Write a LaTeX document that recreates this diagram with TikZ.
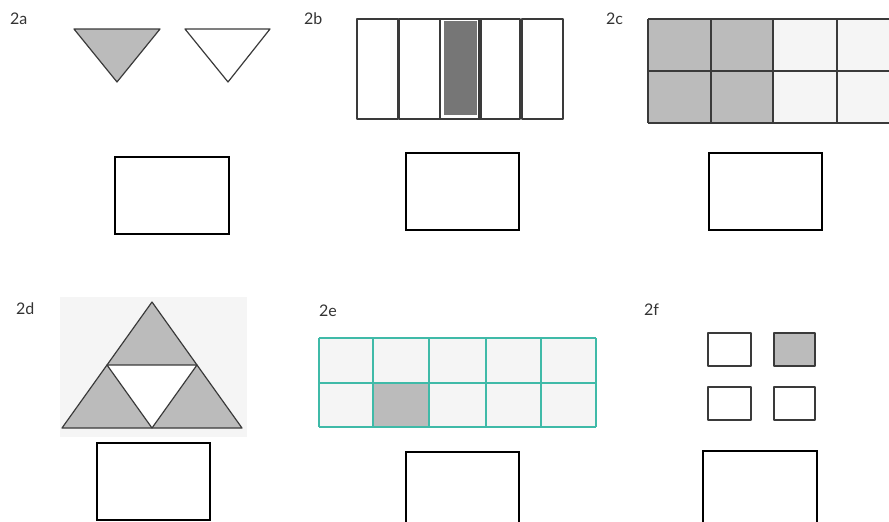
\documentclass[tikz,border=0pt]{standalone}
\usepackage{fontspec}
\setmainfont{Lato}
\usepackage{xcolor}
\usetikzlibrary{math}
\definecolor{greyfill}{HTML}{BBBBBB}
\definecolor{darkgrey}{HTML}{767676}
\definecolor{pale}{HTML}{F5F5F5}
\definecolor{gridteal}{HTML}{3FBAA8}
\definecolor{edge}{HTML}{3A3A3A}
\tikzset{
lbl/.style={anchor=north west, inner sep=0, font=\fontsize{16}{16}\selectfont, text=black!80},
ansbox/.style={draw=black, line width=1.3},
part/.style={draw=edge, line width=1.2, line join=round},
}

\begin{document}
\begin{tikzpicture}[x=1pt,y=-1pt]
\tikzmath{
\w=889; \h=522;
}
\useasboundingbox (0,0) rectangle (\w,\h);
\clip (0,0) rectangle (\w,\h);

% 2a
\node[lbl] (la) at (10,13) {2a};
\draw[part, fill=greyfill] (74,29) -- (160,29) -- (117,82) -- cycle;
\draw[part, fill=white] (185,29) -- (270,29) -- (228,82) -- cycle;
\draw[ansbox] (115,157) rectangle (229,234);

% 2b
\node[lbl] (lb) at (304,13) {2b};
\fill[darkgrey] (444,21) rectangle (477,115);
\foreach \x in {357,399,440,479,522}{
\draw[part] (\x,19) rectangle ({\x+41},119);
}
\draw[ansbox] (406,153) rectangle (519,230);

% 2c
\node[lbl] (lc) at (606,13) {2c};
\fill[pale] (648,19) rectangle (900,123);
\fill[greyfill] (648,19) rectangle (773,123);
\foreach \x in {648,711,773,837}{
\draw[part] (\x,19) -- (\x,123);
}
\draw[part] (648,19) -- (900,19);
\draw[part] (648,71) -- (900,71);
\draw[part] (648,123) -- (900,123);
\draw[ansbox] (709,153) rectangle (822,230);

% 2d
\node[lbl] (ld) at (16,303) {2d};
\fill[pale] (60,297) rectangle (247,437);
\draw[part, fill=greyfill] (152,302) -- (242,428) -- (62,428) -- cycle;
\draw[part, fill=white] (107,365) -- (197,365) -- (152,428) -- cycle;
\draw[ansbox] (97,443) rectangle (210,520);

% 2e
\node[lbl] (le) at (319,305) {2e};
\fill[pale] (319,338) rectangle (596,427);
\fill[greyfill] (373,383) rectangle (429,427);
\foreach \x in {319,373,429,486,541,596}{
\draw[gridteal, line width=1.3] (\x,338) -- (\x,427);
}
\foreach \y in {338,383,427}{
\draw[gridteal, line width=1.3] (319,\y) -- (596,\y);
}
\draw[ansbox] (406,452) rectangle (519,530);

% 2f
\node[lbl] (lf) at (644,304) {2f};
\draw[part] (708,333) rectangle (751,366);
\draw[part, fill=greyfill] (774,333) rectangle (815,366);
\draw[part] (708,387) rectangle (751,420);
\draw[part] (774,387) rectangle (815,420);
\draw[ansbox] (703,451) rectangle (817,530);

\end{tikzpicture}
\end{document}
